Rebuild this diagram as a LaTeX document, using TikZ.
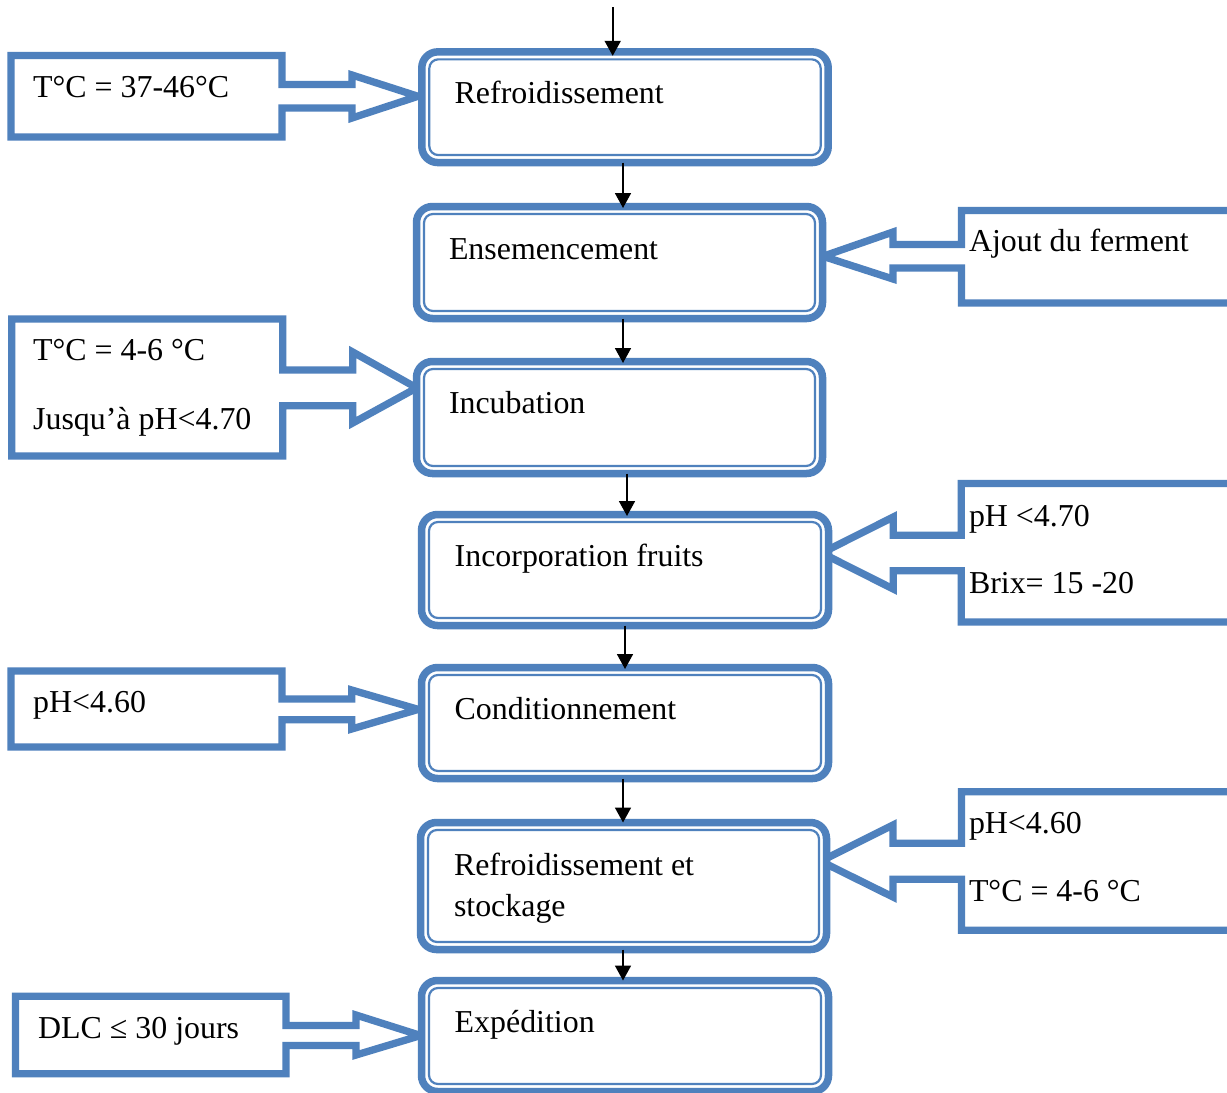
\documentclass[tikz,border=0pt]{standalone}
\usepackage{fontspec}
\setmainfont{Liberation Serif}
\usetikzlibrary{arrows.meta,calc}
\definecolor{ofblue}{HTML}{4F81BD}
\tikzset{
  stage/.style={draw=ofblue, fill=white, line width=7.5pt, rounded corners=16pt,
    outer sep=0pt, inner sep=0pt},
  stageinner/.style={draw=ofblue, line width=2.2pt, rounded corners=9pt},
  callout/.style={draw=ofblue, fill=white, line width=7.3pt, miter limit=10},
  flow/.style={draw=black, line width=1.8pt, -{Triangle[length=15pt,width=16pt]}},
  txt/.style={anchor=base west, inner sep=0pt, font=\fontsize{31.9}{38}\selectfont},
}
\begin{document}
\begin{tikzpicture}[x=1pt,y=-1pt]
\useasboundingbox (0,0) rectangle (1227,1093);
\fill[white] (0,0) rectangle (1227,1093);
\clip (0,0) rectangle (1227,1093);

% side callouts (left ones point right, right ones point left)
\draw[callout] (11,55.5) -- (282,55.5) -- (282,84.5) -- (352,84.5) -- (352,75)
  -- (418,96.3) -- (352,118) -- (352,108) -- (282,108) -- (282,137) -- (11,137) -- cycle;
\draw[callout] (1240,210.5) -- (961.5,210.5) -- (961.5,244.5) -- (893,244.5) -- (893,232)
  -- (823,256.3) -- (893,279) -- (893,268) -- (961.5,268) -- (961.5,303) -- (1240,303) -- cycle;
\draw[callout] (11.7,319) -- (282.7,319) -- (282.7,370) -- (352.7,370) -- (352.7,352)
  -- (416.7,387.9) -- (352.7,423) -- (352.7,405.7) -- (282.7,405.7) -- (282.7,456) -- (11.7,456) -- cycle;
\draw[callout] (1240,483.5) -- (961.3,483.5) -- (961.3,535.3) -- (893.3,535.3) -- (893.3,517)
  -- (821.7,553) -- (893.3,589) -- (893.3,570.7) -- (961.3,570.7) -- (961.3,622) -- (1240,622) -- cycle;
\draw[callout] (11,671) -- (282,671) -- (282,699) -- (351.7,699) -- (351.7,690)
  -- (418.3,709.4) -- (351.7,729) -- (351.7,719.7) -- (282,719.7) -- (282,747) -- (11,747) -- cycle;
\draw[callout] (1240,791.7) -- (961.5,791.7) -- (961.5,843.3) -- (893,843.3) -- (893,825)
  -- (820.7,861.2) -- (893,897) -- (893,879.2) -- (961.5,879.2) -- (961.5,930.3) -- (1240,930.3) -- cycle;
\draw[callout] (15.5,996.3) -- (286,996.3) -- (286,1025.5) -- (356,1025.5) -- (356,1015)
  -- (420.7,1035.5) -- (356,1055) -- (356,1045.5) -- (286,1045.5) -- (286,1073.7) -- (15.5,1073.7) -- cycle;

% process stages
\node[stage, minimum width=406.4pt, minimum height=110.7pt] (b1) at (625,107.2) {};
\node[stage, minimum width=406pt,   minimum height=112pt]   (b2) at (619.5,262.5) {};
\node[stage, minimum width=406pt,   minimum height=112pt]   (b3) at (619.5,417.5) {};
\node[stage, minimum width=407pt,   minimum height=111pt]   (b4) at (625,570) {};
\node[stage, minimum width=407pt,   minimum height=111pt]   (b5) at (625,723) {};
\node[stage, minimum width=406pt,   minimum height=127pt]   (b6) at (623.5,886) {};
\node[stage, minimum width=407pt,   minimum height=111pt]   (b7) at (625,1036) {};
\foreach \n in {b1,b2,b3,b4,b5,b6,b7}
  \draw[stageinner] ([shift={(7.5pt,-7.5pt)}]\n.north west) rectangle ([shift={(-7.5pt,7.5pt)}]\n.south east);

% flow arrows
\coordinate (feed) at (612.7,7);
\draw[flow] (feed) -- ($(feed |- b1.north)+(0,4)$);
\coordinate (a12) at ($(b1.south)+(-2,0)$);
\coordinate (a23) at ($(b2.south)+(3.5,0)$);
\coordinate (a34) at ($(b3.south)+(7.5,0)$);
\coordinate (a45) at ($(b4.south)+(0,0)$);
\coordinate (a56) at ($(b5.south)+(-2,0)$);
\coordinate (a67) at ($(b6.south)+(-0.5,0)$);
\draw[flow] (a12) -- ($(a12 |- b2.north)+(0,1.5)$);
\draw[flow] (a23) -- ($(a23 |- b3.north)+(0,1.5)$);
\draw[flow] (a34) -- ($(a34 |- b4.north)+(0,1.5)$);
\draw[flow] (a45) -- ($(a45 |- b5.north)+(0,1.5)$);
\draw[flow] (a56) -- (a56 |- b6.north);
\draw[flow] (a67) -- (a67 |- b7.north);

% stage texts
\node[txt] (t1)  at (454.5,103.3)  {Refroidissement};
\node[txt] (t2)  at (448.8,259)    {Ensemencement};
\node[txt] (t3)  at (448.8,413.3)  {Incubation};
\node[txt] (t4)  at (454.5,566)    {Incorporation fruits};
\node[txt] (t5)  at (454.5,719.3)  {Conditionnement};
\node[txt] (t6a) at (453.8,875)    {Refroidissement et};
\node[txt] (t6b) at (453.8,916.7)  {stockage};
\node[txt] (t7)  at (454.5,1032.3) {Expédition};

% callout texts
\node[txt] (c1)  at (33,97.3)    {T°C = 37-46°C};
\node[txt] (c2)  at (968.8,251.7) {Ajout du ferment};
\node[txt] (c3a) at (33,360)     {T°C = 4-6 °C};
\node[txt] (c3b) at (33,429.3)   {Jusqu’à pH<4.70};
\node[txt] (c4a) at (968.8,526)   {pH <4.70};
\node[txt] (c4b) at (968.8,593.3) {Brix= 15 -20};
\node[txt] (c5)  at (33,712.7)   {pH<4.60};
\node[txt] (c6a) at (968.8,833.3) {pH<4.60};
\node[txt] (c6b) at (968.8,901.7) {T°C = 4-6 °C};
\node[txt] (c7)  at (38,1038.3)  {DLC ≤ 30 jours};
\end{tikzpicture}
\end{document}
